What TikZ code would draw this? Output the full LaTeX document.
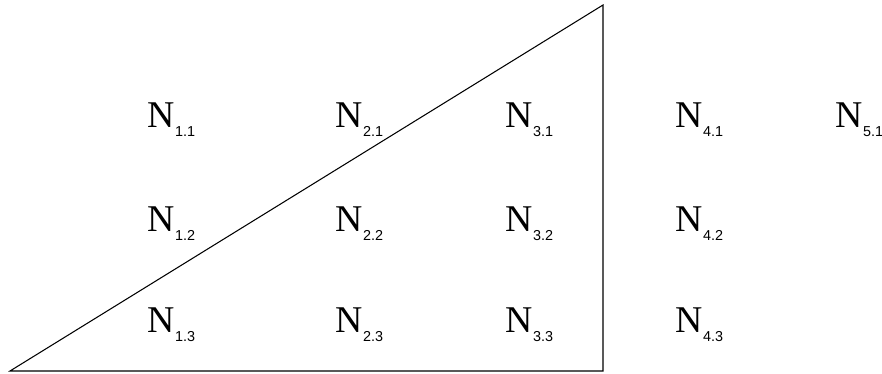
\documentclass[tikz,border=0pt]{standalone}
\usepackage{fontspec}
\setmainfont{Liberation Serif}
\newfontfamily\subfont{Liberation Sans}
\usepackage{tikz}

\newcommand{\nlabel}[1]{{\fontsize{21.5}{22}\selectfont N}\kern0.3pt\raisebox{-4.6pt}{\subfont\fontsize{8.2}{9}\selectfont #1}}

\begin{document}
\begin{tikzpicture}[x=0.02cm, y=-0.02cm, lbl/.style={anchor=base west, inner sep=0pt}]
    \useasboundingbox (0,0) rectangle (882,374);

    % Dreieck
    \coordinate (a) at (10,371);
    \coordinate (b) at (603,371);
    \coordinate (c) at (603,5);
    \draw[line width=0.6pt] (a) -- (b) -- (c) -- cycle;

    % Knoten N_{i.j}
    \foreach \i/\x in {1/147, 2/335, 3/505, 4/675} {
        \foreach \j/\y in {1/128, 2/232, 3/333} {
            \node[lbl] (n\i\j) at (\x,\y) {\nlabel{\i.\j}};
        }
    }
    \node[lbl] (n51) at (835,128) {\nlabel{5.1}};
\end{tikzpicture}
\end{document}
